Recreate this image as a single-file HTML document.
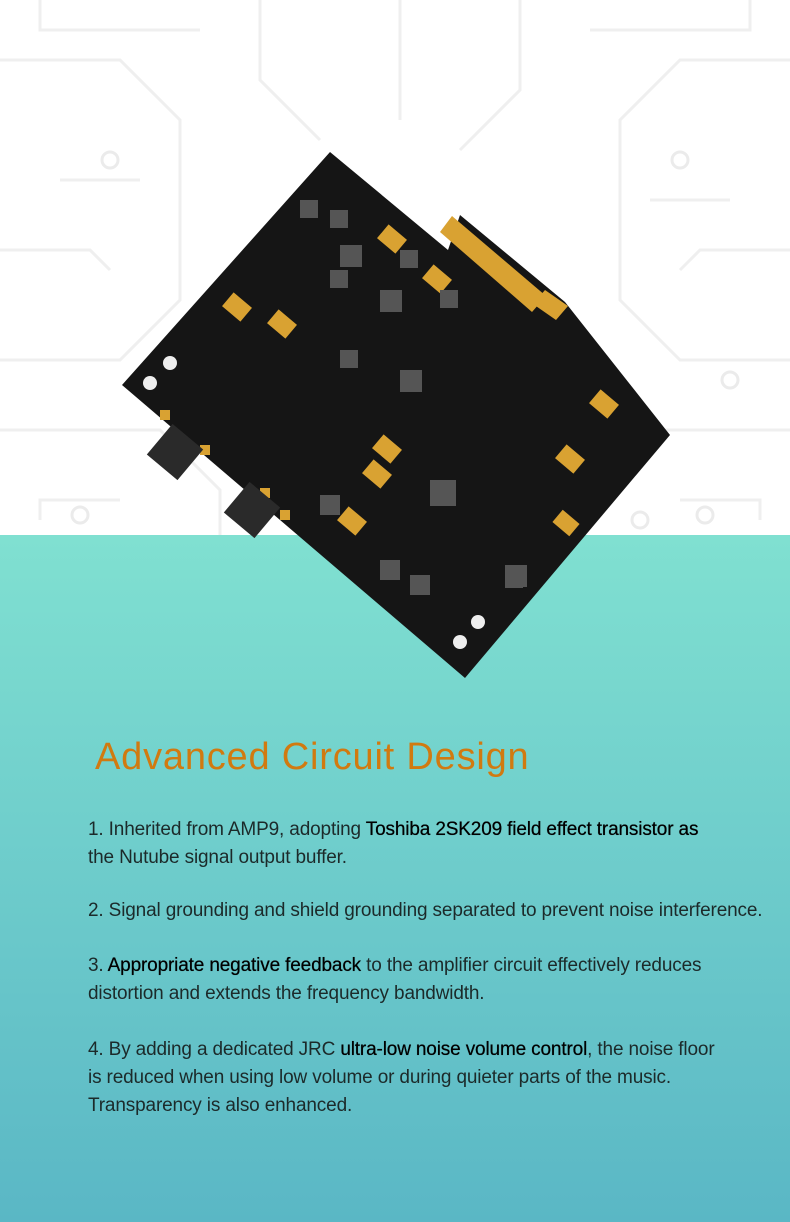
<!DOCTYPE html>
<html><head><meta charset="utf-8"><style>
body{margin:0;width:790px;height:1222px;overflow:hidden;font-family:"Liberation Sans",sans-serif;position:relative;background:#fff}
.bot{position:absolute;left:0;top:535px;width:790px;height:687px;background:linear-gradient(#80e0d1,#5ab7c5)}
h1{position:absolute;left:95px;top:736px;margin:0;font-size:38px;font-weight:normal;color:#d17a10;letter-spacing:0.8px}
.t{position:absolute;left:88px;font-size:19px;line-height:28px;color:#1c2a2a;letter-spacing:-0.15px;white-space:nowrap}
b{font-weight:normal;color:#000;text-shadow:0 0 0.5px #000}
</style></head><body>
<svg width="790" height="535" style="position:absolute;left:0;top:0">
<g stroke="#efefef" stroke-width="3" fill="none">
<path d="M0 60 H120 L180 120 V300 L120 360 H0"/><path d="M0 430 H160 L220 490 V535"/>
<path d="M790 60 H680 L620 120 V300 L680 360 H790"/><path d="M790 430 H640 L580 490 V535"/>
<path d="M260 0 V80 L320 140"/><path d="M520 0 V90 L460 150"/><path d="M400 0 V120"/>
<path d="M60 180 H140"/><path d="M730 200 H650"/><path d="M40 520 V500 H120"/><path d="M760 520 V500 H680"/>
<path d="M0 250 H90 L110 270"/><path d="M790 250 H700 L680 270"/><path d="M40 0 V30 H200"/><path d="M750 0 V30 H590"/>
</g>
<g fill="none" stroke="#ebebeb" stroke-width="3"><circle cx="80" cy="515" r="8"/><circle cx="705" cy="515" r="8"/><circle cx="640" cy="520" r="8"/><circle cx="730" cy="380" r="8"/><circle cx="680" cy="160" r="8"/><circle cx="110" cy="160" r="8"/></g>
</svg>
<div class="bot"></div>
<svg width="790" height="700" style="position:absolute;left:0;top:0">
<polygon points="330,152 448,250 460,215 565,302 670,435 465,678 122,385" fill="#151515"/>
<polygon points="452,216 546,296 532,312 440,232" fill="#d9a232"/>
<polygon points="545,290 568,306 556,320 533,304" fill="#d9a232"/>
<g fill="#d9a232">
<rect x="380" y="230" width="24" height="18" transform="rotate(40 392 239)"/>
<rect x="225" y="298" width="24" height="18" transform="rotate(40 237 307)"/>
<rect x="270" y="315" width="24" height="18" transform="rotate(40 282 324)"/>
<rect x="425" y="270" width="24" height="18" transform="rotate(40 437 279)"/>
<rect x="375" y="440" width="24" height="18" transform="rotate(40 387 449)"/>
<rect x="365" y="465" width="24" height="18" transform="rotate(40 377 474)"/>
<rect x="340" y="512" width="24" height="18" transform="rotate(40 352 521)"/>
<rect x="592" y="395" width="24" height="18" transform="rotate(40 604 404)"/>
<rect x="558" y="450" width="24" height="18" transform="rotate(40 570 459)"/>
<rect x="555" y="515" width="22" height="16" transform="rotate(40 566 523)"/>
<rect x="160" y="410" width="10" height="10"/><rect x="200" y="445" width="10" height="10"/><rect x="260" y="488" width="10" height="10"/><rect x="280" y="510" width="10" height="10"/>
</g>
<g fill="#555"><rect x="300" y="200" width="18" height="18"/><rect x="330" y="210" width="18" height="18"/><rect x="340" y="245" width="22" height="22"/><rect x="400" y="250" width="18" height="18"/><rect x="440" y="290" width="18" height="18"/><rect x="380" y="290" width="22" height="22"/><rect x="330" y="270" width="18" height="18"/><rect x="340" y="350" width="18" height="18"/><rect x="400" y="370" width="22" height="22"/><rect x="505" y="570" width="18" height="18"/><rect x="430" y="480" width="26" height="26"/><rect x="320" y="495" width="20" height="20"/><rect x="380" y="560" width="20" height="20"/><rect x="410" y="575" width="20" height="20"/><rect x="505" y="565" width="22" height="22"/></g>
<g fill="#eee"><circle cx="150" cy="383" r="7"/><circle cx="170" cy="363" r="7"/><circle cx="478" cy="622" r="7"/><circle cx="460" cy="642" r="7"/></g>
<g fill="#2a2a2a"><rect x="155" y="432" width="40" height="40" transform="rotate(40 175 452)"/><rect x="232" y="490" width="40" height="40" transform="rotate(40 252 510)"/></g>
</svg>
<h1>Advanced Circuit Design</h1>
<div class="t" style="top:816px">1. Inherited from AMP9, adopting <b>Toshiba 2SK209 field effect transistor as</b><br>the Nutube signal output buffer.</div>
<div class="t" style="top:897px">2. Signal grounding and shield grounding separated to prevent noise interference.</div>
<div class="t" style="top:952px">3. <b>Appropriate negative feedback</b> to the amplifier circuit effectively reduces<br>distortion and extends the frequency bandwidth.</div>
<div class="t" style="top:1036px">4. By adding a dedicated JRC <b>ultra-low noise volume control</b>, the noise floor<br>is reduced when using low volume or during quieter parts of the music.<br>Transparency is also enhanced.</div>
</body></html>
